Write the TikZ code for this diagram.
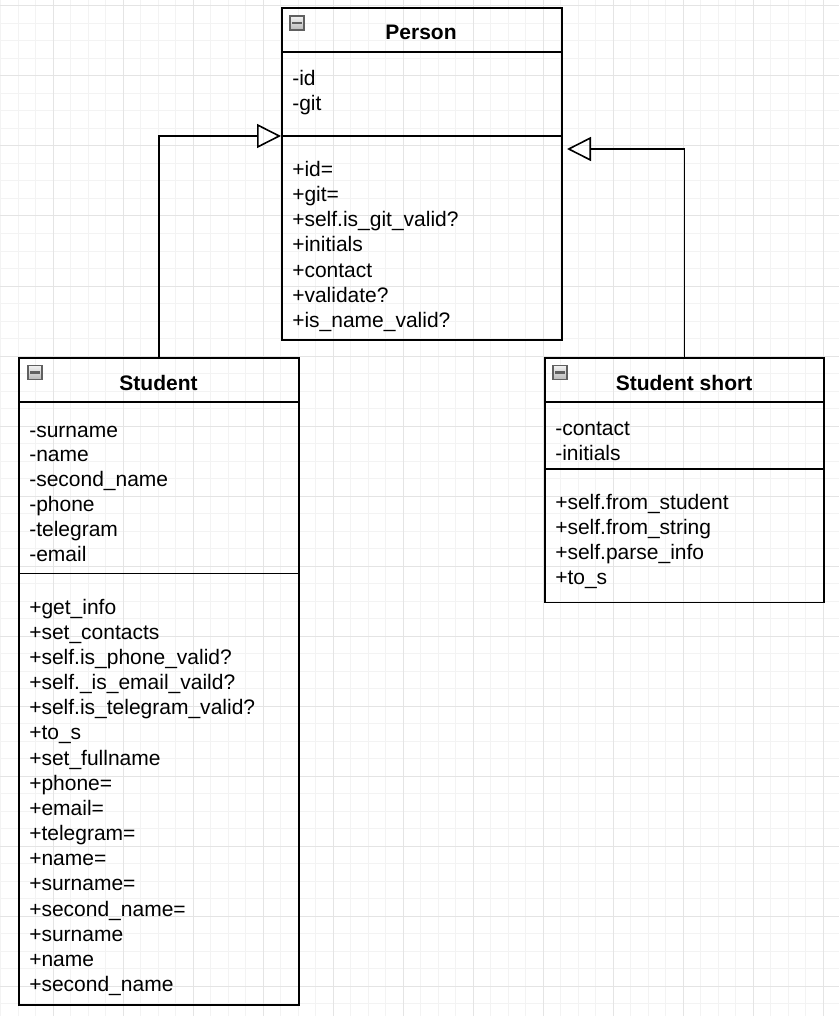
\documentclass[tikz,border=0pt]{standalone}
\usepackage{fontspec}
\setmainfont{Liberation Sans}
\usetikzlibrary{arrows.meta}

\definecolor{gridminor}{HTML}{F3F3F3}
\definecolor{gridmajor}{HTML}{E4E4E4}

\tikzset{
  classbox/.style={draw, line width=1.4pt, anchor=north west, inner sep=0pt},
  divider/.style={line width=1.4pt},
  classtitle/.style={anchor=base, font=\bfseries\fontsize{15.75}{18}\selectfont},
  member/.style={anchor=base west, inner sep=0pt, font=\fontsize{15.75}{18}\selectfont},
  minusicon/.style={draw=gray!75!black, line width=1pt, top color=gray!10, bottom color=gray!55,
    minimum size=10.5pt, inner sep=0pt,
    path picture={\draw[line width=2pt]
      ([xshift=-3.4pt]path picture bounding box.center) -- ([xshift=3.4pt]path picture bounding box.center);}},
  inherit/.style={line width=1.2pt, -{Triangle[open, length=18pt, width=18pt, line width=1.2pt]}}
}

\begin{document}
\begin{tikzpicture}[x=0.75pt, y=-0.75pt]
    \useasboundingbox (0,0) rectangle (839,1016);

    % background grid
    \foreach \k in {0,...,47} \draw[gridminor, line width=0.75pt] (0.8+17.5*\k,0) -- (0.8+17.5*\k,1016);
    \foreach \k in {0,...,57} \draw[gridminor, line width=0.75pt] (0,6+17.5*\k) -- (839,6+17.5*\k);
    \foreach \k in {0,...,11} \draw[gridmajor, line width=0.75pt] (53.3+70*\k,0) -- (53.3+70*\k,1016);
    \foreach \k in {0,...,14} \draw[gridmajor, line width=0.75pt] (0,6+70*\k) -- (839,6+70*\k);

    % classes
    \node[classbox, minimum width=210pt, minimum height=249pt] (person) at (281,7) {};
    \node[classbox, minimum width=210pt, minimum height=485.25pt] (student) at (18,357) {};
    \node[classbox, minimum width=209.6pt, minimum height=183.4pt] (short) at (544,357) {};

    \draw[divider] (person.west |- 0,52) -- (person.east |- 0,52);
    \draw[divider] (person.west |- 0,136) -- (person.east |- 0,136);
    \draw[divider] (student.west |- 0,402) -- (student.east |- 0,402);
    \draw[divider] (student.west |- 0,573.5) -- (student.east |- 0,573.5);
    \draw[divider] (short.west |- 0,402) -- (short.east |- 0,402);
    \draw[divider] (short.west |- 0,469) -- (short.east |- 0,469);

    \node[minusicon] (person-icon) at (297,23) {};
    \node[minusicon] (student-icon) at (35,372.5) {};
    \node[minusicon] (short-icon) at (560,372.5) {};

    \node[classtitle] (person-title) at (421,40) {Person};
    \node[classtitle] (student-title) at (158.5,390) {Student};
    \node[classtitle] (short-title) at (684,390) {Student short};

    % Person
    \foreach \m [count=\i from 0] in {-id,-git}
        \node[member] (p-attr\i) at (292,86+25*\i) {\m};
    \foreach \m [count=\i from 0] in {+id=,+git=,+self.is\_git\_valid?,+initials,+contact,+validate?,+is\_name\_valid?}
        \node[member] (p-meth\i) at (292,177+25*\i) {\m};

    % Student
    \foreach \m [count=\i from 0] in {-surname,-name,-second\_name,-phone,-telegram,-email}
        \node[member] (s-attr\i) at (29,437+24.9*\i) {\m};
    \foreach \m [count=\i from 0] in {+get\_info,+set\_contacts,+self.is\_phone\_valid?,+self.\_is\_email\_vaild?,
        +self.is\_telegram\_valid?,+to\_s,+set\_fullname,+phone=,+email=,+telegram=,+name=,+surname=,
        +second\_name=,+surname,+name,+second\_name}
        \node[member] (s-meth\i) at (29,614+25.18*\i) {\m};

    % Student short
    \foreach \m [count=\i from 0] in {-contact,-initials}
        \node[member] (ss-attr\i) at (555,435.7+24.5*\i) {\m};
    \foreach \m [count=\i from 0] in {+self.from\_student,+self.from\_string,+self.parse\_info,+to\_s}
        \node[member] (ss-meth\i) at (555,509+25*\i) {\m};

    % inheritance
    \coordinate (person-in) at (281,136);
    \coordinate (short-in) at (567,149);
    \draw[inherit] (student.north) |- (person-in);
    \draw[inherit] (short.north) |- (short-in);
\end{tikzpicture}
\end{document}
